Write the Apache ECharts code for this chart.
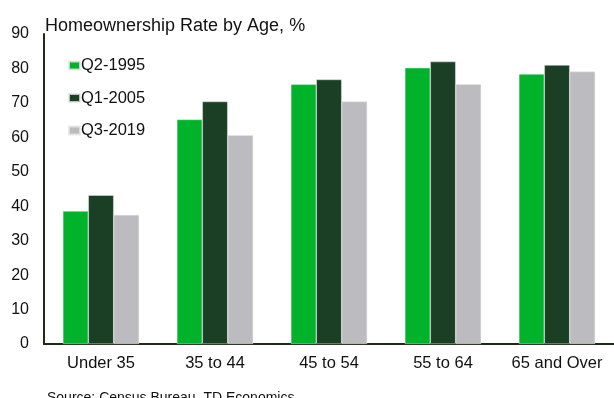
<!DOCTYPE html>
<html><head><meta charset="utf-8">
<script src="https://cdn.jsdelivr.net/npm/echarts@6/dist/echarts.min.js"></script>
<style>html,body{margin:0;padding:0;background:#fff}#c{width:614px;height:398px}</style>
</head><body><div id="c"></div>
<script>
const categories = ['Under 35', '35 to 44', '45 to 54', '55 to 64', '65 and Over'];
const seriesNames = ['Q2-1995', 'Q1-2005', 'Q3-2019'];
const q2_1995 = [38.6, 65.2, 75.4, 80.2, 78.4];
const q1_2005 = [43.2, 70.4, 76.8, 82.0, 81.0];
const q3_2019 = [37.5, 60.6, 70.4, 75.4, 79.1];
const yTicks = [0, 10, 20, 30, 40, 50, 60, 70, 80, 90];
const colors = ['#00B32A', '#1A3F24', '#BCBBBF'];
const font = 'Liberation Sans, Arial, sans-serif';

const chart = echarts.init(document.getElementById('c'), null, {renderer: 'canvas'});
const data = [q2_1995, q1_2005, q3_2019];
chart.setOption({
  animation: false,
  textStyle: {fontFamily: font},
  title: [
    {text: 'Homeownership Rate by Age, %', left: 40, top: 12,
     textStyle: {fontSize: 18, fontWeight: 'normal', color: '#111', fontFamily: font}},
    {text: 'Source: Census Bureau, TD Economics', left: 42, top: 386,
     textStyle: {fontSize: 14, fontWeight: 'normal', color: '#111', fontFamily: font}}
  ],
  legend: {
    orient: 'vertical', left: 63, top: 52, itemGap: 15.5,
    itemWidth: 11, itemHeight: 8, icon: 'rect',
    textStyle: {fontSize: 16.5, color: '#111', fontFamily: font, padding: [0, 0, 0, -4]},
    data: seriesNames
  },
  grid: {left: 44, right: -2, top: 34, bottom: 54, containLabel: false},
  xAxis: {
    type: 'category', data: categories,
    axisLine: {lineStyle: {color: '#1E2B19', width: 2}},
    axisTick: {show: false},
    axisLabel: {interval: 0, fontSize: 16.5, color: '#111', margin: 11, fontFamily: font}
  },
  yAxis: {
    type: 'value', min: yTicks[0], max: yTicks[yTicks.length - 1], interval: 10,
    axisLine: {show: true, lineStyle: {color: '#1E2B19', width: 2}},
    axisTick: {show: false},
    splitLine: {show: false},
    axisLabel: {fontSize: 16, color: '#111', margin: 15, fontFamily: font}
  },
  series: seriesNames.map((n, i) => ({
    name: n, type: 'bar', data: data[i],
    barGap: '0%', barCategoryGap: '33%',
    itemStyle: {color: colors[i], borderColor: 'rgba(230,230,230,0.8)', borderWidth: 0.6}
  }))
});
</script></body></html>
